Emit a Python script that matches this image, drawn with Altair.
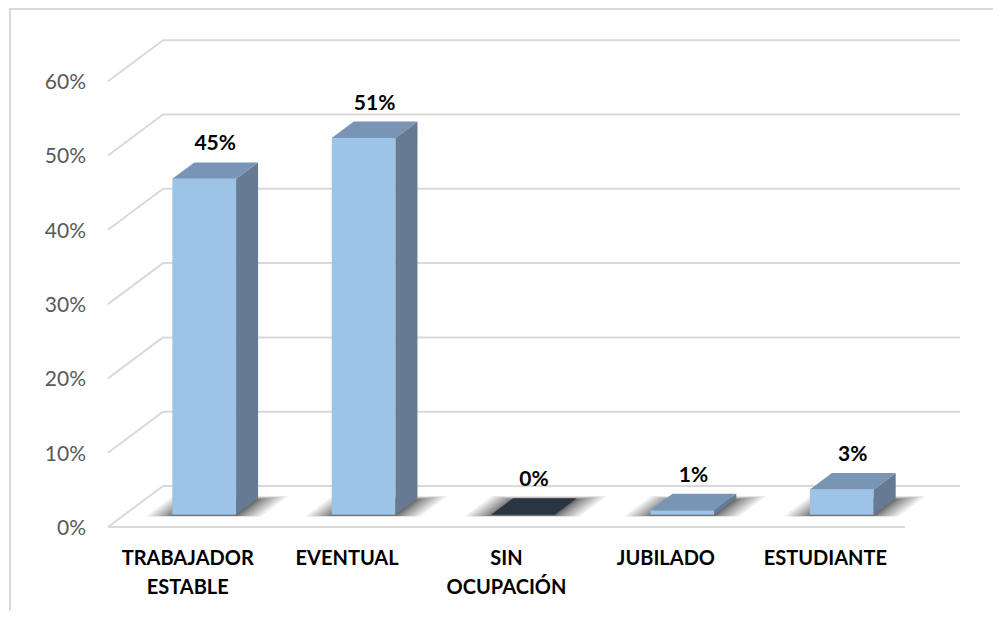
import altair as alt
import pandas as pd

# ---- data ----
categories = ["TRABAJADOR\nESTABLE", "EVENTUAL", "SIN\nOCUPACIÓN", "JUBILADO", "ESTUDIANTE"]
values = [0.452, 0.507, 0.0, 0.006, 0.034]
tick_values = [0.0, 0.1, 0.2, 0.3, 0.4, 0.5, 0.6]
tick_labels = ["0%", "10%", "20%", "30%", "40%", "50%", "60%"]

# ---- 3D projection parameters (style) ----
DX = 0.345      # x shift (category units) for full depth
DY = 0.0552     # y shift (value units) for full depth
D0, D1 = 0.30, 0.70   # bar depth range
HALF = 0.20           # half bar width (category units)

X_DOMAIN = [-1.1274, 5.0520]
Y_DOMAIN = [-0.11306, 0.69852]
W, H = 985, 603

xs = alt.Scale(domain=X_DOMAIN, nice=False, zero=False)
ys = alt.Scale(domain=Y_DOMAIN, nice=False, zero=False)

FRONT = "#9DC3E6"
SIDE = "#667B93"
TOP = "#7895B5"
TOP_ZERO = "#2B3540"
GRID = "#D9D9D9"

# ---- gridlines / walls ----
grid_rows = []
for v in tick_values:
    grid_rows.append(dict(x=-0.5 + DX, x2=4.5 + DX, y=v + DY, y2=v + DY))   # back wall
    grid_rows.append(dict(x=-0.5, x2=-0.5 + DX, y=v, y2=v + DY))            # left wall diagonal
grid_rows.append(dict(x=-0.5, x2=4.5, y=0.0, y2=0.0))                        # floor front edge
grid_df = pd.DataFrame(grid_rows)

grid = alt.Chart(grid_df).mark_rule(color=GRID, strokeWidth=2).encode(
    x=alt.X("x:Q", scale=xs, axis=None), x2="x2:Q",
    y=alt.Y("y:Q", scale=ys, axis=None), y2="y2:Q")

# ---- shadows (blurred footprint approximated by stacked parallelograms) ----
shadow_rows = []
n_layers = 12
for i, v in enumerate(values):
    for k in range(n_layers):
        f = ((n_layers - k) / n_layers) ** 1.6
        ex = 0.16 * f
        ed = 0.08 * f
        for d in (D0 - ed * 0.2, D1 + ed):
            shadow_rows.append(dict(g=f"{i}-{k}", y=d * DY - 0.0015,
                                    x=i - HALF - ex + d * DX, x2=i + HALF + ex + d * DX))
shadow_df = pd.DataFrame(shadow_rows)
shadow = alt.Chart(shadow_df).mark_area(orient="horizontal", color="black", opacity=0.065,
                                        strokeWidth=0).encode(
    y=alt.Y("y:Q", scale=ys, axis=None),
    x=alt.X("x:Q", scale=xs, axis=None), x2="x2:Q",
    detail="g:N")

# ---- bars ----
front_df = pd.DataFrame([dict(x=i - HALF + D0 * DX, x2=i + HALF + D0 * DX,
                              y=D0 * DY, y2=v + D0 * DY) for i, v in enumerate(values)])
front = alt.Chart(front_df).mark_rect(color=FRONT).encode(
    x=alt.X("x:Q", scale=xs, axis=None), x2="x2:Q",
    y=alt.Y("y:Q", scale=ys, axis=None), y2="y2:Q")

side_rows = []
for i, v in enumerate(values):
    for d in (D0, D1):
        side_rows.append(dict(g=i, x=i + HALF + d * DX, y=v + d * DY, y2=d * DY))
side_df = pd.DataFrame(side_rows)
side = alt.Chart(side_df).mark_area(color=SIDE).encode(
    x=alt.X("x:Q", scale=xs, axis=None),
    y=alt.Y("y:Q", scale=ys, axis=None), y2="y2:Q",
    detail="g:N")

top_rows = []
for i, v in enumerate(values):
    col = TOP_ZERO if v == 0 else TOP
    for d in (D0, D1):
        top_rows.append(dict(g=i, c=col, y=v + d * DY,
                             x=i - HALF + d * DX, x2=i + HALF + d * DX))
top_df = pd.DataFrame(top_rows)
top = alt.Chart(top_df).mark_area(orient="horizontal").encode(
    y=alt.Y("y:Q", scale=ys, axis=None),
    x=alt.X("x:Q", scale=xs, axis=None), x2="x2:Q",
    color=alt.Color("c:N", scale=None),
    detail="g:N")

# ---- value labels ----
val_df = pd.DataFrame([dict(x=i + 0.5 * DX, y=v + D1 * DY, t=f"{round(v * 100):.0f}%")
                       for i, v in enumerate(values)])
val_text = alt.Chart(val_df).mark_text(font="Lato", fontSize=21, fontWeight="bold",
                                       color="black", baseline="middle", dy=-18).encode(
    x=alt.X("x:Q", scale=xs, axis=None),
    y=alt.Y("y:Q", scale=ys, axis=None), text="t:N")

# ---- category labels ----
cat_df = pd.DataFrame([dict(x=float(i), y=0.0, t=c) for i, c in enumerate(categories)])
cat_text = alt.Chart(cat_df).mark_text(font="Lato", fontSize=20, fontWeight="bold",
                                       color="black", baseline="top", align="center",
                                       dy=22, lineBreak="\n", lineHeight=29).encode(
    x=alt.X("x:Q", scale=xs, axis=None),
    y=alt.Y("y:Q", scale=ys, axis=None), text="t:N")

# ---- y tick labels ----
tick_df = pd.DataFrame(dict(x=[-0.5] * len(tick_values), y=tick_values, t=tick_labels))
tick_text = alt.Chart(tick_df).mark_text(font="Lato", fontSize=21, color="#595959",
                                         align="right", baseline="middle", dx=-22, dy=2).encode(
    x=alt.X("x:Q", scale=xs, axis=None),
    y=alt.Y("y:Q", scale=ys, axis=None), text="t:N")

# ---- outer frame (top and left edges visible) ----
frame_top = alt.Chart(pd.DataFrame({"a": [0]})).mark_rule(color=GRID, strokeWidth=2).encode(
    x=alt.value(1), x2=alt.value(W), y=alt.value(1))
frame_left = alt.Chart(pd.DataFrame({"a": [0]})).mark_rule(color=GRID, strokeWidth=2).encode(
    x=alt.value(2), y=alt.value(0), y2=alt.value(H))

chart = alt.layer(frame_top, frame_left, grid, shadow, front, side, top,
                  val_text, cat_text, tick_text).properties(
    width=W, height=H, autosize=alt.AutoSizeParams(type="none"), padding=0,
    background="white"
).configure_view(stroke=None)

chart.save("out.html", embed_options={"renderer": "svg", "actions": False})
